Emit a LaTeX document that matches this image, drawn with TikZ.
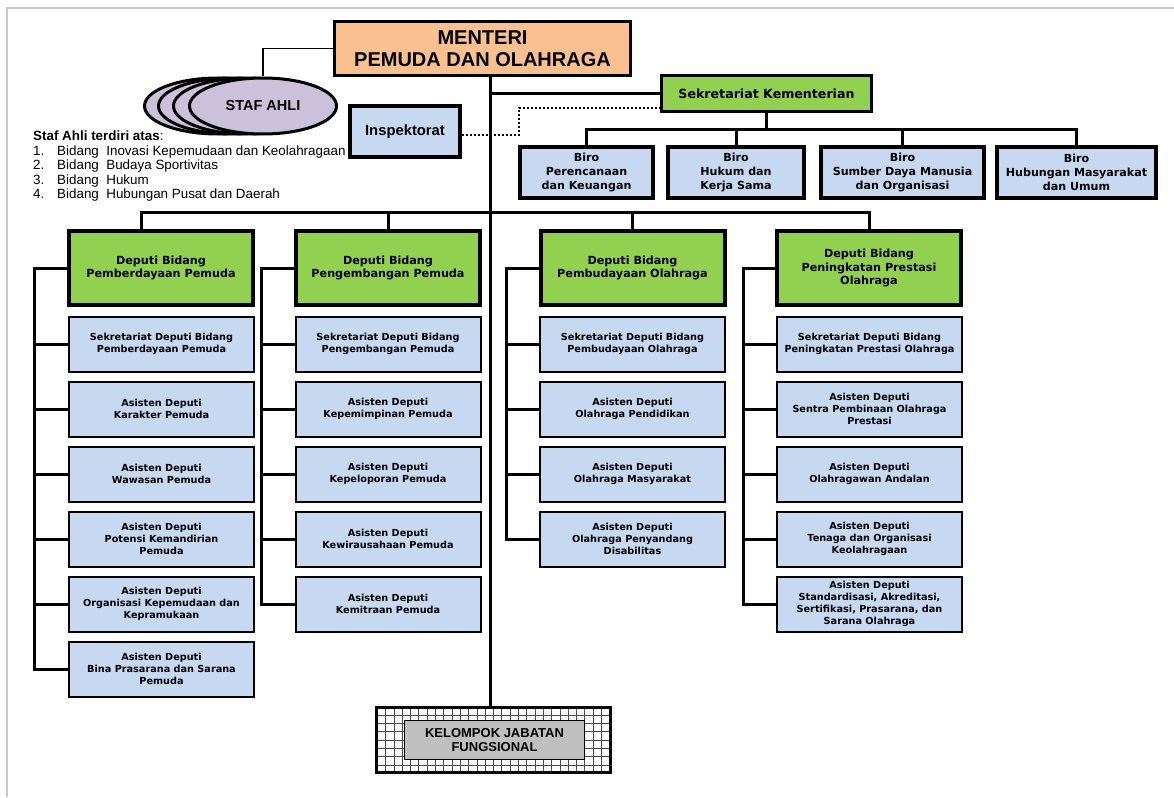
\documentclass[tikz,border=0pt]{standalone}
\usepackage{fontspec}
\setmainfont{Liberation Sans}
\newfontfamily\dejavu{DejaVu Sans}
\usetikzlibrary{shapes.geometric}

\definecolor{kemOrange}{HTML}{FAC090}
\definecolor{kemGreen}{HTML}{92D050}
\definecolor{kemBlue}{HTML}{C6D9F1}
\definecolor{kemLilac}{HTML}{CCC1DA}
\definecolor{kemFrame}{HTML}{C8C8C8}

\begin{document}
\begin{tikzpicture}[
    x=1pt, y=-1pt,
    font=\dejavu\bfseries,
    head/.style={draw=black, line width=3.5pt, fill=kemOrange, align=center,
        minimum width=296pt, minimum height=54pt,
        font=\rmfamily\bfseries\fontsize{20}{21.5}\selectfont},
    staf/.style={ellipse, draw=black, line width=3pt, fill=kemLilac,
        minimum width=147pt, minimum height=56pt},
    unit/.style={draw=black, line width=4pt, fill=kemBlue, align=center,
        minimum height=51pt, font=\dejavu\bfseries\fontsize{11.1}{13.8}\selectfont},
    sekr/.style={draw=black, line width=3pt, fill=kemGreen,
        minimum width=210pt, minimum height=36pt,
        font=\dejavu\bfseries\fontsize{12.6}{14}\selectfont},
    deputi/.style={draw=black, line width=4pt, fill=kemGreen, align=center,
        minimum width=184pt, minimum height=74pt,
        font=\dejavu\bfseries\fontsize{11.2}{13.8}\selectfont},
    sub/.style={draw=black, line width=2pt, fill=kemBlue, align=center,
        minimum width=185pt, minimum height=55pt,
        font=\dejavu\bfseries\fontsize{9.7}{12.2}\selectfont},
    gridbox/.style={draw=black, line width=3pt, fill=white,
        minimum width=234pt, minimum height=65pt,
        path picture={\draw[black!70, line width=0.7pt, step=8.3pt]
            (path picture bounding box.south west) grid (path picture bounding box.north east);}},
    fungsional/.style={draw=black, line width=1.5pt, fill=gray!50, align=center,
        minimum width=180pt, minimum height=39pt,
        font=\rmfamily\bfseries\fontsize{13}{14.5}\selectfont},
    link/.style={line width=3pt},
    thinlink/.style={line width=1.5pt},
    dotlink/.style={line width=2pt, dotted}
]

\useasboundingbox (0,0) rectangle (1174,797);

% Page frame
\draw[kemFrame, line width=2pt] (7,797) -- (7,8) -- (1174,8);

% Menteri
\node[head] (menteri) at (482.5,48.5) {MENTERI\\PEMUDA DAN OLAHRAGA};

% Staf Ahli
\node[staf] (sa1) at (218,106) {};
\node[staf] (sa2) at (232,106) {};
\node[staf] (sa3) at (247,106) {};
\node[staf, font=\rmfamily\bfseries\fontsize{14.5}{16}\selectfont] (sa4) at (263,106) {STAF AHLI};
\node[anchor=north west, inner sep=0pt, align=left,
    font=\rmfamily\fontsize{13.4}{14.5}\selectfont] (stafinfo) at (33,131)
    {\textbf{Staf Ahli terdiri atas}:\\
     \makebox[24pt][l]{1.}Bidang\ \ Inovasi Kepemudaan dan Keolahragaan\\
     \makebox[24pt][l]{2.}Bidang\ \ Budaya Sportivitas\\
     \makebox[24pt][l]{3.}Bidang\ \ Hukum\\
     \makebox[24pt][l]{4.}Bidang\ \ Hubungan Pusat dan Daerah};

% Inspektorat and Sekretariat
\node[unit, minimum width=110pt, font=\rmfamily\bfseries\fontsize{14.8}{16}\selectfont] (insp) at (405,131.5) {Inspektorat};
\node[sekr] (sekr) at (766.5,93.5) {Sekretariat Kementerian};

% Biro
\node[unit, minimum width=133pt] (biro1) at (586.5,172.5) {Biro\\Perencanaan\\dan Keuangan};
\node[unit, minimum width=136pt] (biro2) at (736,172.5) {Biro\\Hukum dan\\Kerja Sama};
\node[unit, minimum width=163pt] (biro3) at (902.5,172.5) {Biro\\Sumber Daya Manusia\\dan Organisasi};
\node[unit, minimum width=159pt] (biro4) at (1076.5,172.5) {Biro\\Hubungan Masyarakat\\dan Umum};

% Deputi
\node[deputi] (dep1) at (161,268) {Deputi Bidang\\Pemberdayaan Pemuda};
\node[deputi] (dep2) at (388,268) {Deputi Bidang\\Pengembangan Pemuda};
\node[deputi] (dep3) at (632.5,268) {Deputi Bidang\\Pembudayaan Olahraga};
\node[deputi] (dep4) at (869,268) {Deputi Bidang\\Peningkatan Prestasi\\Olahraga};

% Units under each Deputi
\foreach \i/\t in {1/{Sekretariat Deputi Bidang\\Pemberdayaan Pemuda},
                   2/{Asisten Deputi\\Karakter Pemuda},
                   3/{Asisten Deputi\\Wawasan Pemuda},
                   4/{Asisten Deputi\\Potensi Kemandirian\\Pemuda},
                   5/{Asisten Deputi\\Organisasi Kepemudaan dan\\Kepramukaan},
                   6/{Asisten Deputi\\Bina Prasarana dan Sarana\\Pemuda}}
    \node[sub] (da\i) at (161.5,{344+65*(\i-1)}) {\t};
\foreach \i/\t in {1/{Sekretariat Deputi Bidang\\Pengembangan Pemuda},
                   2/{Asisten Deputi\\Kepemimpinan Pemuda},
                   3/{Asisten Deputi\\Kepeloporan Pemuda},
                   4/{Asisten Deputi\\Kewirausahaan Pemuda},
                   5/{Asisten Deputi\\Kemitraan Pemuda}}
    \node[sub] (db\i) at (388,{344+65*(\i-1)}) {\t};
\foreach \i/\t in {1/{Sekretariat Deputi Bidang\\Pembudayaan Olahraga},
                   2/{Asisten Deputi\\Olahraga Pendidikan},
                   3/{Asisten Deputi\\Olahraga Masyarakat},
                   4/{Asisten Deputi\\Olahraga Penyandang\\Disabilitas}}
    \node[sub] (dc\i) at (632.5,{344+65*(\i-1)}) {\t};
\foreach \i/\t in {1/{Sekretariat Deputi Bidang\\Peningkatan Prestasi Olahraga},
                   2/{Asisten Deputi\\Sentra Pembinaan Olahraga\\Prestasi},
                   3/{Asisten Deputi\\Olahragawan Andalan},
                   4/{Asisten Deputi\\Tenaga dan Organisasi\\Keolahragaan},
                   5/{Asisten Deputi\\Standardisasi, Akreditasi,\\Sertifikasi, Prasarana, dan\\Sarana Olahraga}}
    \node[sub] (dd\i) at (869.5,{344+65*(\i-1)}) {\t};

% Kelompok Jabatan Fungsional
\node[gridbox] (kjf) at (493.5,740) {};
\node[fungsional] (kjfin) at (494.5,740) {KELOMPOK JABATAN\\FUNGSIONAL};

% Junctions
\coordinate (trunk) at (490,212);
\coordinate (birobus) at (766.5,129);
\coordinate (bus1) at (34,268);
\coordinate (bus2) at (261,268);
\coordinate (bus3) at (506,268);
\coordinate (bus4) at (743,268);

% Lines
\draw[thinlink] (menteri.west) -| (sa4.north);
\draw[link] (menteri.south -| trunk) -- (kjf.north -| trunk);
\draw[link] (trunk |- sekr.west) -- (sekr.west);
\draw[dotlink] ([yshift=-3.5pt]insp.east) -| ([xshift=-141pt,yshift=-14.5pt]sekr.west) -- ([yshift=-14.5pt]sekr.west);
\draw[link] (sekr.south) -- (birobus);
\foreach \b in {biro1,biro2,biro3,biro4}
    \draw[link] (birobus) -| (\b.north);
\draw[link] (trunk) -| ([xshift=-20pt]dep1.north);
\foreach \d in {dep2,dep3,dep4}
    \draw[link] (trunk) -| (\d.north);

\draw[link] (dep1.west) -- (bus1) |- (da6.west);
\foreach \i in {1,...,5} \draw[link] (bus1 |- da\i.west) -- (da\i.west);
\draw[link] (dep2.west) -- (bus2) |- (db5.west);
\foreach \i in {1,...,4} \draw[link] (bus2 |- db\i.west) -- (db\i.west);
\draw[link] (dep3.west) -- (bus3) |- (dc4.west);
\foreach \i in {1,...,3} \draw[link] (bus3 |- dc\i.west) -- (dc\i.west);
\draw[link] (dep4.west) -- (bus4) |- (dd5.west);
\foreach \i in {1,...,4} \draw[link] (bus4 |- dd\i.west) -- (dd\i.west);

\end{tikzpicture}
\end{document}
